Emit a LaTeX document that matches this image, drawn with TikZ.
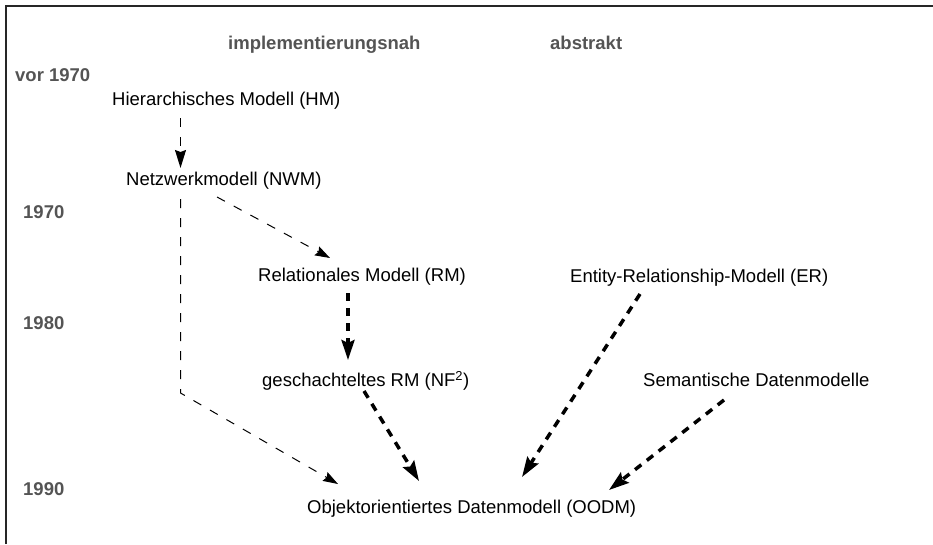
\documentclass[tikz,border=0pt]{standalone}
\usepackage{fontspec}
\setmainfont{Liberation Sans}
\usetikzlibrary{arrows.meta}
\definecolor{kopfgrau}{gray}{0.33}
\definecolor{rahmen}{gray}{0.15}

\begin{document}
\begin{tikzpicture}[x=1pt,y=-1pt,
	modell/.style={anchor=base west,inner sep=0pt,font=\fontsize{18.5}{22}\selectfont},
	kopf/.style={modell,font=\fontsize{18.5}{22}\selectfont\bfseries,text=kopfgrau},
	duenn/.style={-{Stealth[length=15pt,width=10pt,inset=2pt]},line width=1pt,dash pattern=on 9pt off 10pt},
	mittel/.style={-{Stealth[length=18pt,width=11pt,inset=2pt]},line width=1.1pt,dash pattern=on 9pt off 10pt},
	dick/.style={-{Stealth[length=20pt,width=13pt,inset=3pt]},line width=3.5pt,dash pattern=on 8pt off 7pt}]

	\useasboundingbox (0,0) rectangle (933,544);
	\draw[rahmen,line width=1.5pt] (6,544) -- (6,6) -- (933,6);

	% Spaltenkoepfe und Jahre
	\node[kopf] (nah) at (228,49.5) {implementierungsnah};
	\node[kopf] (abs) at (550,49.5) {abstrakt};
	\node[kopf] (j0) at (15,81.5) {vor 1970};
	\node[kopf] (j1) at (23,218) {1970};
	\node[kopf] (j2) at (23,329) {1980};
	\node[kopf] (j3) at (23,495.5) {1990};

	% Modelle
	\node[modell] (hm) at (112,105) {Hierarchisches Modell (HM)};
	\node[modell] (nwm) at (126,185.5) {Netzwerkmodell (NWM)};
	\node[modell] (rm) at (258,281.5) {Relationales Modell (RM)};
	\node[modell] (er) at (570,282) {Entity-Relationship-Modell (ER)};
	\node[modell] (nf) at (262,386.5) {geschachteltes RM (NF\textsuperscript{2})};
	\node[modell] (sem) at (643,386) {Semantische Datenmodelle};
	\node[modell] (oodm) at (307,513.5) {Objektorientiertes Datenmodell (OODM)};
	\coordinate (knick) at (180.5,393);

	\draw[mittel] ([xshift=68.5pt,yshift=-13pt]hm.base west) -- ([xshift=54.5pt,yshift=17.5pt]nwm.base west);
	\draw[duenn] ([xshift=91pt,yshift=-11.5pt]nwm.base west) -- ([xshift=72pt,yshift=23.5pt]rm.base west);
	\draw[duenn] ([xshift=54.5pt,yshift=-13.5pt]nwm.base west) -- (knick) -- ([xshift=31pt,yshift=29.5pt]oodm.base west);
	\draw[dick] ([xshift=90pt,yshift=-11.5pt]rm.base west) -- ([xshift=86pt,yshift=26.5pt]nf.base west);
	\draw[dick] ([xshift=102pt,yshift=-4.5pt]nf.base west) -- ([xshift=112pt,yshift=32.5pt]oodm.base west);
	\draw[dick] ([xshift=70pt,yshift=-12pt]er.base west) -- ([xshift=215pt,yshift=36.5pt]oodm.base west);
	\draw[dick] ([xshift=81pt,yshift=-14pt]sem.base west) -- ([xshift=302pt,yshift=23.5pt]oodm.base west);

\end{tikzpicture}
\end{document}
